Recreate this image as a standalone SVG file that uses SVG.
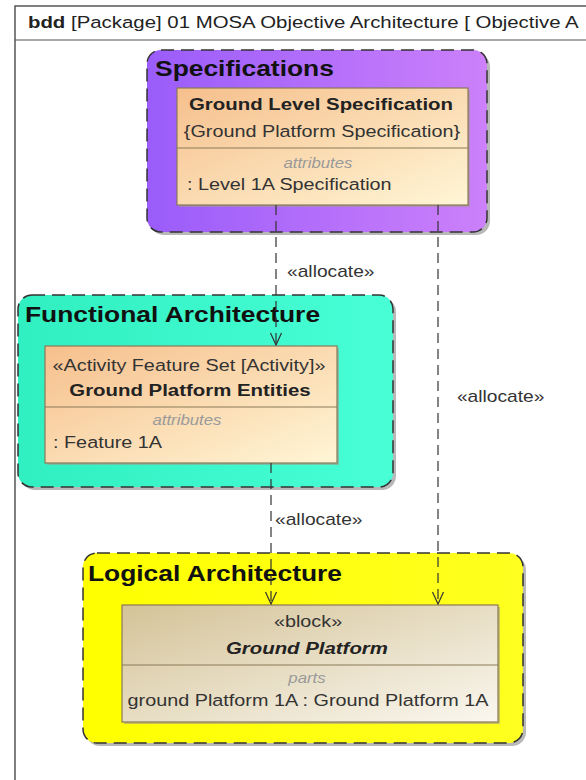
<svg xmlns="http://www.w3.org/2000/svg" width="586" height="780" viewBox="0 0 586 780">
<style>
text{font-family:"Liberation Sans",Arial,sans-serif;fill:#222}
.hdr{font-size:17px}
.ttl{font-size:22px;font-weight:bold;fill:#111}
.nm{font-size:17px;font-weight:bold;text-anchor:middle}
.tx{font-size:16.5px;text-anchor:middle;fill:#333}
.at{font-size:16.5px;fill:#333}
.cmp{font-size:14px;font-style:italic;fill:#9a9a9a;text-anchor:middle}
.lbl{font-size:16px;fill:#333}
.pkg{stroke:#333;stroke-width:1.5;stroke-dasharray:13 7}
.pshadow{fill:#9a9a9a;opacity:0.7}
.cls{stroke:#8a7a58;stroke-width:1.2}
.cshadow{fill:#a09a90;opacity:0.6}
.div{stroke:#8a7a58;stroke-width:1.2}
.con{fill:none;stroke:#333;stroke-width:1.2;stroke-dasharray:10 6}
</style>
<defs>
<linearGradient id="gSpec" x1="0" y1="0" x2="1" y2="0"><stop offset="0" stop-color="#9a5cfa"/><stop offset="1" stop-color="#cc80fa"/></linearGradient>
<linearGradient id="gFunc" x1="0" y1="0" x2="1" y2="0"><stop offset="0" stop-color="#30efc0"/><stop offset="1" stop-color="#48ffd6"/></linearGradient>
<linearGradient id="gLog" x1="0" y1="0" x2="1" y2="0"><stop offset="0" stop-color="#ffff00"/><stop offset="1" stop-color="#ffff20"/></linearGradient>
<linearGradient id="gCls" x1="0" y1="0" x2="1" y2="1"><stop offset="0" stop-color="#f6bf8c"/><stop offset="1" stop-color="#fff6d6"/></linearGradient>
<linearGradient id="gBlk" x1="0" y1="0" x2="1" y2="1"><stop offset="0" stop-color="#d4c398"/><stop offset="1" stop-color="#faf7ef"/></linearGradient>
<marker id="arr" markerUnits="userSpaceOnUse" markerWidth="14" markerHeight="14" viewBox="0 0 14 14" refX="13" refY="7" orient="auto">
<path d="M1,1.5 L13,7 L1,12.5" fill="none" stroke="#333" stroke-width="1.2" stroke-dasharray="none"/>
</marker>
</defs>
<rect width="586" height="780" fill="#fff"/>
<g id="frame">
<path d="M600,6 H15 V790" fill="none" stroke="#555" stroke-width="1.5"/>
<line x1="15" y1="40" x2="600" y2="40" stroke="#555" stroke-width="1.2"/>
<g transform="scale(1.2,1)"><text x="23.3" y="28" class="hdr"><tspan font-weight="bold">bdd</tspan> [Package] 01 MOSA Objective Architecture [ Objective A</text></g>
</g>
<g id="specifications">
<rect x="150" y="53" width="340" height="182" rx="14" class="pshadow"/>
<rect x="147" y="50" width="340" height="182" rx="14" fill="url(#gSpec)" class="pkg"/>
<g transform="scale(1.2,1)"><text x="129.2" y="76" class="ttl">Specifications</text></g>
<g id="ground-level-specification">
<rect x="179" y="90" width="291" height="117" class="cshadow"/>
<rect x="177" y="88" width="291" height="117" fill="url(#gCls)" class="cls"/>
<line x1="177" y1="148" x2="468" y2="148" class="div"/>
<g transform="scale(1.2,1)">
<text x="267.5" y="110" class="nm">Ground Level Specification</text>
<text x="268.3" y="137" class="tx">{Ground Platform Specification}</text>
<text x="265" y="168" class="cmp">attributes</text>
<text x="155.8" y="190" class="at">: Level 1A Specification</text>
</g>
</g>
</g>
<g id="functional-architecture">
<rect x="21" y="298" width="375" height="192" rx="14" class="pshadow"/>
<rect x="18" y="295" width="375" height="192" rx="14" fill="url(#gFunc)" class="pkg"/>
<g transform="scale(1.2,1)"><text x="20.8" y="322" class="ttl">Functional Architecture</text></g>
<g id="ground-platform-entities">
<rect x="47" y="348" width="292" height="117" class="cshadow"/>
<rect x="45" y="346" width="292" height="117" fill="url(#gCls)" class="cls"/>
<line x1="45" y1="407" x2="337" y2="407" class="div"/>
<g transform="scale(1.2,1)">
<text x="157.5" y="371" class="tx">«Activity Feature Set [Activity]»</text>
<text x="158.3" y="396" class="nm">Ground Platform Entities</text>
<text x="155.8" y="425" class="cmp">attributes</text>
<text x="44.2" y="448" class="at">: Feature 1A</text>
</g>
</g>
</g>
<g id="logical-architecture">
<rect x="86" y="556" width="440" height="190" rx="14" class="pshadow"/>
<rect x="83" y="553" width="440" height="190" rx="14" fill="url(#gLog)" class="pkg"/>
<g transform="scale(1.2,1)"><text x="73.3" y="581" class="ttl">Logical Architecture</text></g>
<g id="ground-platform">
<rect x="124" y="607" width="376" height="117" class="cshadow"/>
<rect x="122" y="605" width="376" height="117" fill="url(#gBlk)" class="cls"/>
<line x1="122" y1="665" x2="498" y2="665" class="div"/>
<g transform="scale(1.2,1)">
<text x="256.7" y="627" class="tx">«block»</text>
<text x="255.8" y="654" class="nm" font-style="italic">Ground Platform</text>
<text x="255.8" y="683" class="cmp" font-style="normal">parts</text>
<text x="256.7" y="706" class="tx" font-size="16px">ground Platform 1A : Ground Platform 1A</text>
</g>
</g>
</g>
<g id="connectors">
<line x1="276" y1="205" x2="276" y2="345" class="con" marker-end="url(#arr)"/>
<line x1="271" y1="463" x2="271" y2="604" class="con" marker-end="url(#arr)"/>
<line x1="438" y1="205" x2="438" y2="604" class="con" marker-end="url(#arr)"/>
<g transform="scale(1.2,1)">
<text x="239.2" y="277" class="lbl">«allocate»</text>
<text x="380.8" y="402" class="lbl">«allocate»</text>
<text x="229.2" y="525" class="lbl">«allocate»</text>
</g>
</g>
</svg>
